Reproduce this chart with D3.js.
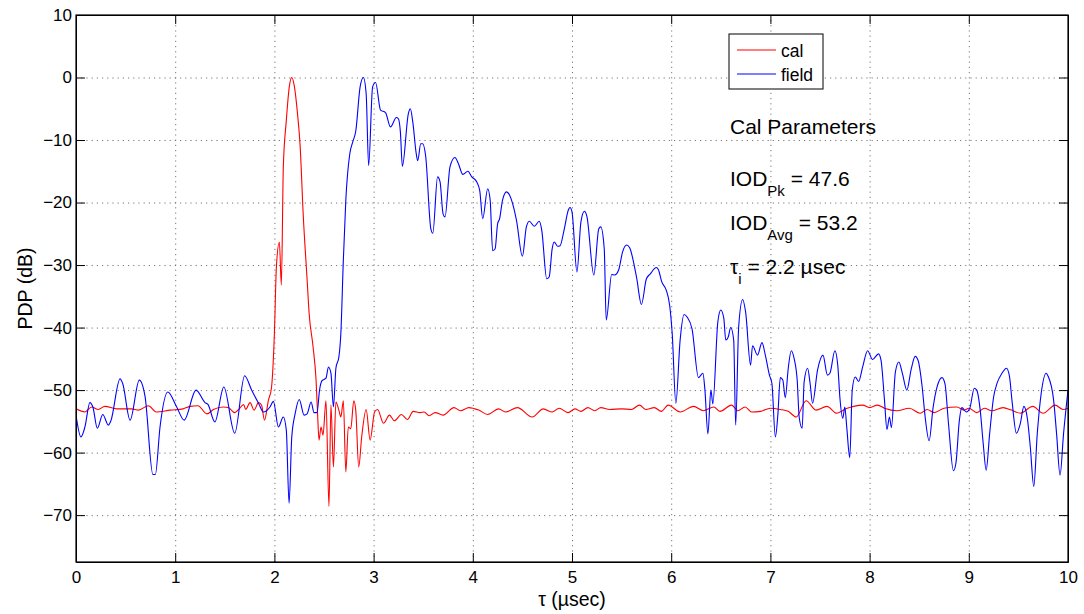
<!DOCTYPE html>
<html>
<head>
<meta charset="utf-8">
<script src="https://cdn.jsdelivr.net/npm/d3@7"></script>
<style>
  body { margin: 0; background: #fff; }
  svg { display: block; font-family: "Liberation Sans", Arial, Helvetica, sans-serif; }
  .grid line { stroke: #777; stroke-dasharray: 1.2, 4; }
  .grid .domain { display: none; }
  .axis text { font-size: 17px; fill: #000; }
  .axis line, .axis path { stroke: #000; }
</style>
</head>
<body>
<div id="chart"></div>
<script>
// tick values
const xTicks = [0, 1, 2, 3, 4, 5, 6, 7, 8, 9, 10];
const yTicks = [10, 0, -10, -20, -30, -40, -50, -60, -70];

// cal PDP: [tau (usec), dB]
const cal = [
  [0, -53.0], [0.09, -53.5], [0.158, -52.7], [0.225, -53.1], [0.29, -52.6], [0.41, -53.0],
  [0.56, -53.0], [0.63, -53.2], [0.73, -52.5], [0.81, -53.5], [0.95, -53.2], [1.08, -53.0],
  [1.15, -52.6], [1.23, -52.5], [1.32, -53.8], [1.385, -53.1], [1.485, -52.7], [1.535, -52.8],
  [1.60, -53.6], [1.64, -53.1], [1.69, -52.3], [1.71, -53.1], [1.755, -52.0], [1.795, -53.2],
  [1.84, -52.0], [1.87, -52.4], [1.90, -54.8], [1.94, -51.6], [1.97, -49.7], [2.00, -40.9],
  [2.02, -30.3], [2.05, -26.3], [2.07, -33.2], [2.09, -14.3], [2.12, -6.9], [2.15, -1.5],
  [2.175, 0], [2.20, -1.3], [2.23, -5.3], [2.26, -11.1], [2.29, -21.8], [2.33, -32.4],
  [2.35, -37.7], [2.39, -43.1], [2.42, -48.4], [2.435, -53.7], [2.45, -58.0], [2.47, -55.9],
  [2.49, -57.2], [2.52, -51.7], [2.55, -68.6], [2.57, -52.4], [2.595, -62.3], [2.62, -51.9],
  [2.65, -53.2], [2.67, -54.3], [2.695, -51.7], [2.72, -63.1], [2.745, -55.9], [2.77, -56.2],
  [2.80, -51.7], [2.82, -53.2], [2.85, -62.3], [2.88, -57.5], [2.925, -53.1], [2.965, -58.0],
  [3.01, -53.5], [3.04, -53.1], [3.10, -55.3], [3.16, -54.0], [3.21, -54.9], [3.28, -53.9],
  [3.34, -54.7], [3.40, -53.4], [3.47, -53.6], [3.51, -53.5], [3.56, -54.1], [3.62, -53.6],
  [3.70, -54.0], [3.81, -52.8], [3.875, -53.3], [3.96, -52.8], [4.06, -53.2], [4.15, -53.9],
  [4.26, -53.0], [4.33, -53.5], [4.45, -52.8], [4.60, -54.3], [4.71, -53.0], [4.80, -53.5],
  [4.87, -52.9], [4.96, -53.6], [5.03, -53.0], [5.09, -53.4], [5.16, -52.8], [5.23, -53.3],
  [5.29, -52.8], [5.38, -53.1], [5.50, -53.0], [5.60, -53.1], [5.68, -52.4], [5.745, -53.1],
  [5.83, -52.8], [5.90, -53.4], [5.97, -52.4], [6.09, -53.5], [6.225, -52.6], [6.325, -53.3],
  [6.43, -52.7], [6.49, -53.4], [6.61, -52.4], [6.67, -53.3], [6.745, -52.7], [6.81, -53.5],
  [6.90, -53.4], [7.00, -52.9], [7.10, -53.1], [7.18, -53.4], [7.26, -54.3], [7.36, -51.7],
  [7.46, -53.2], [7.57, -52.6], [7.67, -53.7], [7.76, -53.0], [7.93, -52.4], [8.0, -52.8],
  [8.08, -52.4], [8.15, -52.9], [8.275, -53.3], [8.40, -52.9], [8.51, -53.7], [8.58, -53.1],
  [8.65, -53.6], [8.75, -52.9], [8.88, -52.7], [8.95, -53.2], [9.0, -52.9], [9.08, -53.6],
  [9.16, -52.9], [9.23, -53.3], [9.345, -52.8], [9.43, -53.2], [9.52, -53.7], [9.645, -52.6],
  [9.75, -53.7], [9.87, -52.4], [9.95, -53.1], [10.0, -52.9]
];

// field PDP: [tau (usec), dB]
const field = [
  [0, -54.0], [0.05, -57.5], [0.09, -55.9], [0.14, -52.0], [0.17, -52.7], [0.215, -56.1],
  [0.27, -53.9], [0.326, -55.6], [0.35, -55.0], [0.444, -48.2], [0.47, -48.9], [0.545, -54.8],
  [0.638, -48.4], [0.696, -51.0], [0.775, -63.5], [0.80, -63.5], [0.847, -55.9], [0.925, -50.3],
  [1.015, -52.7], [1.09, -54.8], [1.21, -50.0], [1.30, -52.0], [1.33, -52.3], [1.40, -55.1],
  [1.49, -49.5], [1.60, -56.9], [1.70, -47.7], [1.77, -50.0], [1.84, -52.1], [1.89, -53.5],
  [1.955, -52.7], [1.99, -51.8], [2.04, -55.9], [2.09, -54.3], [2.12, -56.4], [2.148, -68.1],
  [2.175, -57.5], [2.21, -53.7], [2.25, -51.5], [2.30, -54.0], [2.33, -53.8], [2.37, -51.9],
  [2.40, -53.6], [2.43, -53.6], [2.455, -50.0], [2.48, -48.5], [2.52, -48.1], [2.545, -46.3],
  [2.57, -47.3], [2.595, -52.7], [2.62, -46.5], [2.65, -44.7], [2.67, -40.9], [2.695, -29.2],
  [2.72, -19.6], [2.76, -12.2], [2.79, -10.3], [2.82, -8.6], [2.864, -1.5], [2.897, 0],
  [2.925, -2.6], [2.95, -14.1], [2.99, -1.5], [3.02, -0.8], [3.07, -5.2], [3.12, -5.6],
  [3.17, -7.9], [3.23, -6.4], [3.25, -6.6], [3.27, -8.7], [3.29, -14.2], [3.35, -5.8],
  [3.37, -5.0], [3.395, -7.1], [3.43, -12.2], [3.445, -13.3], [3.475, -10.6], [3.495, -10.6],
  [3.525, -12.6], [3.577, -24.2], [3.597, -24.9], [3.645, -15.9], [3.67, -16.7], [3.70, -21.8],
  [3.72, -22.3], [3.77, -14.3], [3.82, -12.8], [3.855, -13.8], [3.90, -15.5], [3.95, -15.0],
  [3.99, -15.9], [4.04, -16.7], [4.07, -18.1], [4.10, -22.6], [4.15, -17.8], [4.175, -19.6],
  [4.20, -27.7], [4.225, -27.4], [4.25, -23.4], [4.27, -22.6], [4.30, -19.6], [4.34, -18.3],
  [4.37, -18.8], [4.44, -22.8], [4.50, -28.6], [4.54, -23.9], [4.57, -23.0], [4.62, -23.8],
  [4.67, -23.0], [4.695, -24.4], [4.745, -32.2], [4.77, -31.9], [4.80, -27.4], [4.82, -26.3],
  [4.855, -27.0], [4.88, -26.9], [4.92, -24.4], [4.965, -21.1], [4.98, -20.8], [5.0, -21.5],
  [5.05, -31.1], [5.09, -23.1], [5.125, -21.4], [5.15, -22.2], [5.22, -31.6], [5.27, -24.2],
  [5.29, -23.9], [5.325, -27.4], [5.345, -38.8], [5.40, -31.5], [5.43, -31.6], [5.47, -30.8],
  [5.51, -27.9], [5.55, -26.8], [5.58, -27.2], [5.65, -31.9], [5.70, -36.3], [5.75, -32.2],
  [5.79, -31.4], [5.85, -30.4], [5.87, -30.7], [5.905, -32.7], [5.95, -34.0], [5.985, -36.5],
  [6.01, -40.9], [6.047, -52.1], [6.09, -42.0], [6.13, -37.9], [6.16, -38.3], [6.21, -40.2],
  [6.275, -48.0], [6.32, -47.3], [6.34, -50.0], [6.37, -57.0], [6.40, -50.0], [6.42, -52.2],
  [6.47, -39.1], [6.50, -37.2], [6.53, -38.5], [6.55, -42.0], [6.575, -41.5], [6.60, -40.0],
  [6.63, -42.0], [6.65, -55.6], [6.68, -39.9], [6.72, -35.5], [6.75, -37.5], [6.80, -46.0],
  [6.82, -42.9], [6.87, -44.4], [6.915, -42.4], [6.95, -44.5], [6.99, -47.6], [7.015, -48.9],
  [7.05, -57.5], [7.075, -54.0], [7.10, -48.0], [7.125, -48.4], [7.15, -51.2], [7.18, -46.5],
  [7.21, -43.7], [7.24, -45.0], [7.27, -48.4], [7.29, -54.3], [7.32, -56.1], [7.34, -48.7],
  [7.375, -46.5], [7.40, -48.9], [7.425, -52.1], [7.475, -46.8], [7.53, -44.4], [7.575, -47.6],
  [7.60, -47.3], [7.65, -43.7], [7.68, -46.2], [7.70, -51.1], [7.73, -54.5], [7.75, -52.7],
  [7.77, -56.0], [7.80, -60.8], [7.825, -50.0], [7.855, -47.9], [7.89, -48.6], [7.93, -46.3],
  [7.98, -43.7], [8.03, -45.1], [8.09, -44.2], [8.115, -45.2], [8.15, -51.6], [8.175, -56.3],
  [8.20, -54.3], [8.22, -56.0], [8.26, -47.1], [8.295, -45.5], [8.33, -47.3], [8.375, -50.0],
  [8.42, -46.6], [8.46, -44.6], [8.49, -45.3], [8.53, -49.5], [8.56, -54.3], [8.60, -58.1],
  [8.64, -52.8], [8.68, -49.5], [8.73, -48.0], [8.76, -49.0], [8.795, -55.3], [8.845, -62.9],
  [8.87, -61.7], [8.905, -54.8], [8.93, -52.8], [8.975, -53.5], [9.01, -52.9], [9.055, -49.7],
  [9.08, -50.0], [9.115, -53.2], [9.145, -58.5], [9.175, -62.8], [9.21, -57.0], [9.25, -51.1],
  [9.285, -48.9], [9.335, -47.3], [9.38, -46.5], [9.41, -47.8], [9.435, -51.6], [9.48, -56.9],
  [9.52, -55.3], [9.555, -52.6], [9.59, -54.5], [9.62, -59.1], [9.655, -65.4], [9.69, -57.0],
  [9.73, -50.5], [9.78, -47.3], [9.80, -47.8], [9.855, -51.6], [9.885, -57.0], [9.92, -63.6],
  [9.955, -57.0], [10.0, -50.0]
];

const series = [
  { name: "cal", color: "#ff0000", values: cal },
  { name: "field", color: "#0000ff", values: field }
];

const W = 1084, H = 614;
const margin = { top: 15, right: 16, bottom: 52, left: 76 };
const width = W - margin.left - margin.right;
const height = H - margin.top - margin.bottom;

const svg = d3.select("#chart").append("svg")
  .attr("width", W)
  .attr("height", H);

svg.append("rect").attr("width", W).attr("height", H).attr("fill", "#fff");

const g = svg.append("g")
  .attr("transform", `translate(${margin.left},${margin.top})`);

const x = d3.scaleLinear().domain([0, 10]).range([0, width]);
const y = d3.scaleLinear().domain([-77.5, 10]).range([height, 0]);

// grid
g.append("g").attr("class", "grid")
  .attr("transform", `translate(0,${height})`)
  .call(d3.axisBottom(x).tickValues(xTicks).tickSize(-height).tickFormat(""));
g.append("g").attr("class", "grid")
  .call(d3.axisLeft(y).tickValues(yTicks).tickSize(-width).tickFormat(""));

// clip
g.append("clipPath").attr("id", "clip")
  .append("rect").attr("width", width).attr("height", height);

const line = d3.line()
  .x(d => x(d[0]))
  .y(d => y(d[1]))
  .curve(d3.curveMonotoneX);

g.append("g").attr("clip-path", "url(#clip)")
  .selectAll("path")
  .data(series)
  .enter()
  .append("path")
  .attr("fill", "none")
  .attr("stroke", d => d.color)
  .attr("stroke-width", 1.1)
  .attr("stroke-linejoin", "round")
  .attr("d", d => line(d.values));

// axes (ticks inside, box on all four sides)
g.append("g").attr("class", "axis")
  .attr("transform", `translate(0,${height})`)
  .call(d3.axisBottom(x).tickValues(xTicks).tickSize(-9).tickSizeOuter(0).tickPadding(9).tickFormat(d3.format("d")));
g.append("g").attr("class", "axis")
  .call(d3.axisTop(x).tickValues(xTicks).tickSize(-9).tickSizeOuter(0).tickFormat(""));
g.append("g").attr("class", "axis")
  .call(d3.axisLeft(y).tickValues(yTicks).tickSize(-9).tickSizeOuter(0).tickPadding(4).tickFormat(d3.format("d")));
g.append("g").attr("class", "axis")
  .attr("transform", `translate(${width},0)`)
  .call(d3.axisRight(y).tickValues(yTicks).tickSize(-9).tickSizeOuter(0).tickFormat(""));

g.append("rect")
  .attr("width", width).attr("height", height)
  .attr("fill", "none").attr("stroke", "#000").attr("stroke-width", 1.2);

// axis labels
svg.append("text")
  .attr("x", margin.left + width / 2)
  .attr("y", 606)
  .attr("text-anchor", "middle")
  .attr("font-size", "19.5px")
  .text("τ (µsec)");

svg.append("text")
  .attr("transform", `translate(32,${margin.top + height / 2}) rotate(-90)`)
  .attr("text-anchor", "middle")
  .attr("font-size", "19.5px")
  .text("PDP (dB)");

// legend
const legend = svg.append("g").attr("transform", "translate(729,34)");
legend.append("rect")
  .attr("width", 94).attr("height", 55)
  .attr("fill", "#fff").attr("stroke", "#000").attr("stroke-width", 1);
series.forEach((s, i) => {
  legend.append("line")
    .attr("x1", 8).attr("x2", 47)
    .attr("y1", 16 + i * 24).attr("y2", 16 + i * 24)
    .attr("stroke", s.color).attr("stroke-width", 1.1);
  legend.append("text")
    .attr("x", 52).attr("y", 23 + i * 24)
    .attr("font-size", "17.5px")
    .text(s.name);
});

// annotation
const note = svg.append("g").attr("font-size", "21px");
note.append("text").attr("x", 730).attr("y", 134).text("Cal Parameters");

const pk = note.append("text").attr("x", 730).attr("y", 186);
pk.append("tspan").text("IOD");
pk.append("tspan").attr("dy", 10).attr("font-size", "15px").text("Pk");
pk.append("tspan").attr("dy", -10).text(" = 47.6");

const avg = note.append("text").attr("x", 730).attr("y", 230);
avg.append("tspan").text("IOD");
avg.append("tspan").attr("dy", 10).attr("font-size", "15px").text("Avg");
avg.append("tspan").attr("dy", -10).text(" = 53.2");

const tau = note.append("text").attr("x", 730).attr("y", 274);
tau.append("tspan").text("τ");
tau.append("tspan").attr("dy", 10).attr("font-size", "15px").text("i");
tau.append("tspan").attr("dy", -10).text(" = 2.2 µsec");
</script>
</body>
</html>
